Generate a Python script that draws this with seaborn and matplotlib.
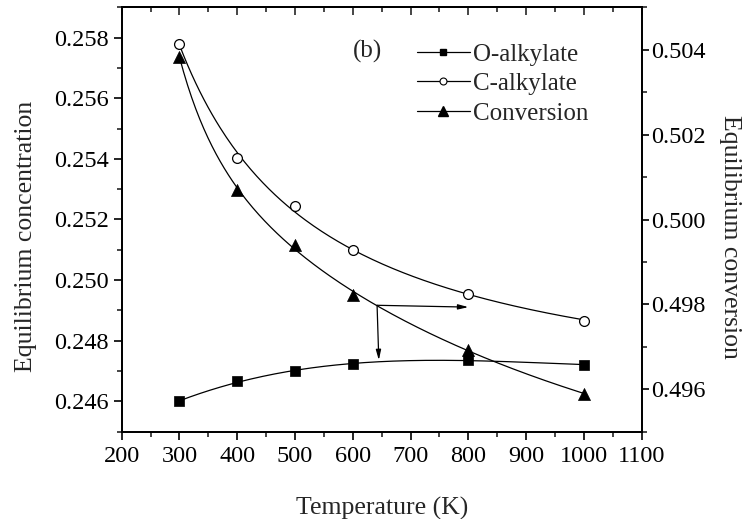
import numpy as np
import pandas as pd
import matplotlib
matplotlib.use("Agg")
import matplotlib.pyplot as plt
from matplotlib.lines import Line2D
from matplotlib.ticker import MultipleLocator, FormatStrFormatter
import seaborn as sns

# Equilibrium data versus temperature
temperature = [300, 400, 500, 600, 800, 1000]
o_alkylate = [0.24600, 0.24668, 0.24699, 0.24724, 0.24736, 0.24721]
c_alkylate = [0.25780, 0.25402, 0.25243, 0.25099, 0.24953, 0.24866]
conversion = [0.50383, 0.50070, 0.49941, 0.49821, 0.49693, 0.49590]

series_labels = ["O-alkylate", "C-alkylate", "Conversion"]
x_ticks = [200, 300, 400, 500, 600, 700, 800, 900, 1000, 1100]
left_ticks = [0.246, 0.248, 0.250, 0.252, 0.254, 0.256, 0.258]
right_ticks = [0.496, 0.498, 0.500, 0.502, 0.504]

df = pd.DataFrame({"T": temperature, "O": o_alkylate, "C": c_alkylate, "X": conversion})

sns.set_style("ticks")
plt.rcParams["font.family"] = ["Liberation Serif", "DejaVu Serif"]
TICK_FS = 17.5
LABEL_FS = 18.5
LEG_FS = 18

fig = plt.figure(figsize=(7.5, 5.19), dpi=100)
ax = fig.add_axes([121.7 / 750, 1 - 431.7 / 519, 520 / 750, 424.4 / 519])
ax2 = ax.twinx()

line_kws = dict(color="black", lw=0.9)


def smooth_fit(t, y, inverse=False, order=2, n=200):
    """Least-squares polynomial fit in T (or 1/T), evaluated on a fine grid."""
    t = np.asarray(t, float)
    y = np.asarray(y, float)
    grid = np.linspace(t.min(), t.max(), n)
    if inverse:
        coef = np.polyfit(1.0 / t, y, order)
        return grid, np.polyval(coef, 1.0 / grid)
    coef = np.polyfit(t, y, order)
    return grid, np.polyval(coef, grid)


# Smooth fitted curves
gx, gy = smooth_fit(temperature, o_alkylate, inverse=False, order=3)
sns.lineplot(x=gx, y=gy, ax=ax, **line_kws)
gx, gy = smooth_fit(temperature, c_alkylate, inverse=True, order=2)
sns.lineplot(x=gx, y=gy, ax=ax, **line_kws)
gx, gy = smooth_fit(temperature, conversion, inverse=True, order=3)
sns.lineplot(x=gx, y=gy, ax=ax2, **line_kws)

# Data points
sns.scatterplot(data=df, x="T", y="O", marker="s", s=50, color="black", edgecolor="black",
                linewidth=0.5, ax=ax, zorder=5)
sns.scatterplot(data=df, x="T", y="C", marker="o", s=50, color="white", edgecolor="black",
                linewidth=0.9, ax=ax, zorder=5)
sns.scatterplot(data=df, x="T", y="X", marker="^", s=75, color="black", edgecolor="black",
                linewidth=0.5, ax=ax2, zorder=5)

# Axis limits and ticks
ax.set_xlim(200, 1100)
ax.set_ylim(0.245, 0.259)
ax2.set_ylim(0.495, 0.505)
ax.set_xticks(x_ticks)
ax.set_yticks(left_ticks)
ax2.set_yticks(right_ticks)
ax.xaxis.set_minor_locator(MultipleLocator(50))
ax.yaxis.set_minor_locator(MultipleLocator(0.001))
ax2.yaxis.set_minor_locator(MultipleLocator(0.001))
ax.yaxis.set_major_formatter(FormatStrFormatter("%.3f"))
ax2.yaxis.set_major_formatter(FormatStrFormatter("%.3f"))

for a in (ax, ax2):
    for sp in a.spines.values():
        sp.set_linewidth(1.3)
        sp.set_color("black")
        sp.set_visible(True)

ax.tick_params(axis="both", which="major", direction="out", length=6, width=1.2,
               labelsize=TICK_FS, colors="black", right=False, top=False)
ax.tick_params(axis="x", which="major", pad=4)
ax.tick_params(axis="both", which="minor", direction="out", length=3.5, width=1.2,
               right=False, top=False)
ax2.tick_params(axis="y", which="major", direction="out", length=5, width=1.2,
                labelsize=TICK_FS, colors="black", pad=2)
ax2.tick_params(axis="y", which="minor", direction="out", length=3.5, width=1.2)

# Inward ticks along the top edge
top = ax.secondary_xaxis("top")
top.set_xticks(x_ticks)
top.xaxis.set_minor_locator(MultipleLocator(50))
top.tick_params(axis="x", which="major", direction="in", length=6, width=1.2, labeltop=False)
top.tick_params(axis="x", which="minor", direction="in", length=3.5, width=1.2)
top.spines["top"].set_linewidth(1.3)

ax.set_xlabel("Temperature (K)", fontsize=LABEL_FS, labelpad=22)
ax.set_ylabel("Equilibrium concentration", fontsize=LABEL_FS, labelpad=12)
ax2.set_ylabel("Equilibrium conversion", fontsize=LABEL_FS, rotation=270, labelpad=25)
ax.yaxis.label.set_y(0.46)
ax2.yaxis.label.set_y(0.46)

# Arrows pointing each curve to its axis
arrow_kw = dict(arrowstyle="-|>,head_length=0.6,head_width=0.15", color="black", lw=0.9,
                shrinkA=0, shrinkB=0)
ax.annotate("", xy=(800, 0.24911), xytext=(642, 0.24917), arrowprops=arrow_kw)
ax.annotate("", xy=(645, 0.24736), xytext=(642, 0.24917), arrowprops=arrow_kw)

ax.text(368 / 750, 1 - 51 / 519, "(b)", transform=fig.transFigure, fontsize=LEG_FS,
        ha="center", va="center")

handles = [
    Line2D([], [], color="black", lw=0.9, marker="s", ms=5, mfc="black", mec="black"),
    Line2D([], [], color="black", lw=0.9, marker="o", ms=5, mfc="white", mec="black", mew=0.8),
    Line2D([], [], color="black", lw=0.9, marker="^", ms=7, mfc="black", mec="black"),
]
fig.legend(handles, series_labels, loc="upper left",
           bbox_to_anchor=(417 / 750, 1 - 43 / 519), frameon=False, fontsize=LEG_FS,
           handlelength=2.1, handletextpad=0.15, labelspacing=0.28,
           borderpad=0, borderaxespad=0)

fig.savefig("out.png", dpi=100)
